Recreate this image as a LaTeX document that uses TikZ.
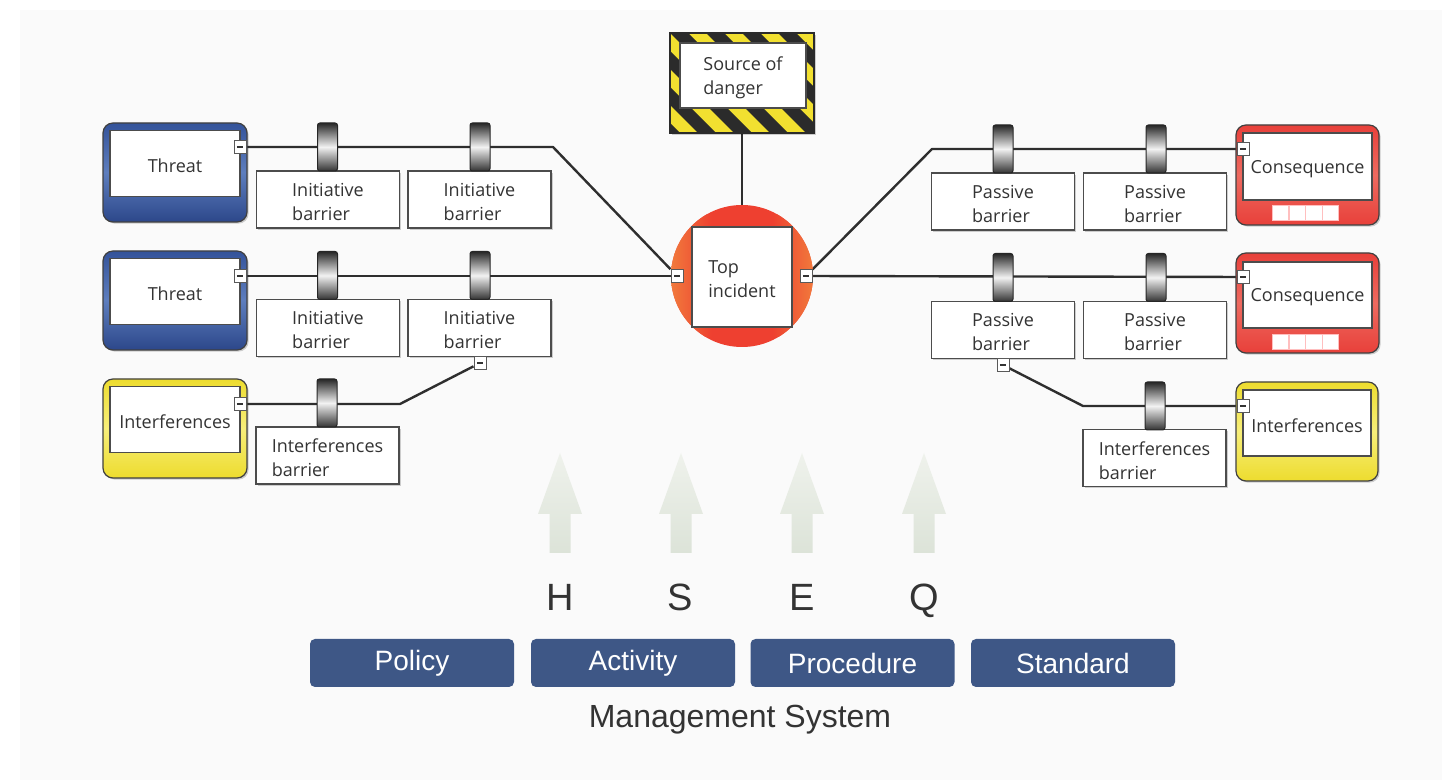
\documentclass[tikz,border=0pt]{standalone}
\usepackage{fontspec}
\setmainfont{Open Sans}
\newfontfamily\hsans{Liberation Sans}
\usetikzlibrary{shadows}
\definecolor{txt}{HTML}{333333}
\definecolor{linec}{HTML}{2E2E2E}
\definecolor{bgc}{HTML}{FAFAFA}
\definecolor{blueA}{HTML}{34539A}
\definecolor{blueB}{HTML}{5E7EBE}
\definecolor{blueC}{HTML}{2C478A}
\definecolor{redA}{HTML}{E8403A}
\definecolor{redB}{HTML}{EE6A60}
\definecolor{yelA}{HTML}{EDDC2E}
\definecolor{yelB}{HTML}{F7EE7A}
\definecolor{hazY}{HTML}{F2E030}
\definecolor{hazK}{HTML}{2B2B2B}
\definecolor{navy}{HTML}{3E5786}
\definecolor{arrT}{HTML}{EFF2EC}
\definecolor{arrB}{HTML}{DCE3D8}
\definecolor{orng}{HTML}{F2803E}
\definecolor{redC}{HTML}{EE4030}
\pgfdeclarelayer{bgl}
\pgfdeclarelayer{lines}
\pgfsetlayers{bgl,lines,main}
\begin{document}
\begin{tikzpicture}[x=0.5pt,y=-0.5pt,
  lbl/.style={font=\fontsize{9}{12}\selectfont, text=txt, align=left},
  conn/.style={draw=linec, line width=1.2pt, line join=round},
  bbox/.style={draw=black!70, fill=white, line width=0.6pt, minimum width=71.5pt, minimum height=28.5pt, inner sep=0pt,
     drop shadow={shadow xshift=0.8pt, shadow yshift=-0.8pt, fill=black, opacity=0.18}},
  roller/.style={draw=black!85, line width=0.5pt, rounded corners=1.2pt, minimum width=10pt, minimum height=24pt, inner sep=0pt,
     top color=black!85, bottom color=black!80, middle color=white!95!black},
  evout/.style={draw=black!75, line width=0.6pt, rounded corners=5pt, minimum width=72pt, minimum height=49.5pt, inner sep=0pt,
     drop shadow={shadow xshift=0.8pt, shadow yshift=-0.8pt, fill=black, opacity=0.18}},
  evin/.style={draw=black!70, fill=white, line width=0.6pt, minimum width=65pt, minimum height=33pt, inner sep=0pt},
  cn/.style={draw=black!65, fill=white, line width=0.5pt, minimum width=6pt, minimum height=6.5pt, inner sep=0pt,
     path picture={\draw[black!80, line width=0.7pt] ([xshift=-1.6pt]path picture bounding box.center) -- ([xshift=1.6pt]path picture bounding box.center);}},
  tx/.style={label={[lbl, yshift=-1.2pt]center:#1}},
  mgmt/.style={fill=navy, rounded corners=2.5pt, minimum width=102pt, minimum height=24pt, inner sep=0pt,
     text=white, font=\hsans\fontsize{14}{16}\selectfont},
  hseq/.style={text=txt, font=\hsans\fontsize{19}{22}\selectfont, anchor=base},
  sq/.style={fill=white, draw=red!25, line width=0.3pt}
]
\useasboundingbox (0,0) rectangle (1442,780);
\begin{pgfonlayer}{bgl}
\fill[white] (0,0) rectangle (1442,780);
\fill[bgc] (20,10) rectangle (1442,780);
\end{pgfonlayer}

% ---------- left event boxes ----------
\node[evout, top color=blueA, bottom color=blueC, middle color=blueB] (t1o) at (175,172.5) {};
\node[evin, tx={Threat}] (t1) at (175,163.5) {};
\node[evout, top color=blueA, bottom color=blueC, middle color=blueB] (t2o) at (175,300.5) {};
\node[evin, tx={Threat}] (t2) at (175,291.5) {};
\node[evout, top color=yelA, bottom color=yelA, middle color=yelB] (ilo) at (175,428.5) {};
\node[evin, tx={Interferences}] (il) at (175,419.5) {};

% ---------- right event boxes ----------
\node[evout, minimum width=71.5pt, minimum height=50pt, top color=redA, bottom color=redA, middle color=redB] (c1o) at (1307.5,175) {};
\node[evin, minimum width=64.5pt, minimum height=33.5pt, tx={Consequence}] (c1) at (1307.5,166.5) {};
\node[evout, minimum width=71.5pt, minimum height=50pt, top color=redA, bottom color=redA, middle color=redB] (c2o) at (1307.5,303) {};
\node[evin, minimum width=64.5pt, minimum height=33pt, tx={Consequence}] (c2) at (1307.5,295) {};
\node[evout, minimum width=71pt, top color=yelA, bottom color=yelA, middle color=yelB] (iro) at (1307,431.5) {};
\node[evin, minimum width=64pt, tx={Interferences}] (ir) at (1307,423) {};
\foreach \yy in {205,334}{
  \foreach \i in {0,1,2,3}{
    \draw[sq] (1272+\i*16.8,\yy) rectangle (1272+\i*16.8+16.2,\yy+15);
  }
}

% ---------- source of danger ----------
\node[draw=hazK, line width=0.8pt, fill=hazY, minimum width=72pt, minimum height=50pt, inner sep=0pt,
      drop shadow={shadow xshift=0.8pt, shadow yshift=-0.8pt, fill=black, opacity=0.18}] (sodo) at (742,83) {};
\begin{scope}
  \clip (670,33) rectangle (814,133);
  \foreach \i in {-4,...,5}{
    \fill[hazK] (670+\i*36,33) -- (670+\i*36+18,33) -- (670+\i*36+118,133) -- (670+\i*36+100,133) -- cycle;
  }
\end{scope}
\draw[hazK, line width=0.8pt] (670,33) rectangle (814,133);
\node[draw=black!70, fill=white, line width=0.6pt, minimum width=63pt, minimum height=32.5pt, inner sep=0pt,
      tx={Source of\\danger}] (sod) at (743,75.5) {};

% ---------- top incident ----------
\node[circle, minimum size=71pt, inner sep=0pt, fill=redC] (topc) at (742,276) {};
\begin{scope}
  \clip (742,276) circle[radius=71];
  \shade[left color=orng, right color=redC, opacity=0.9] (671,215) rectangle (712,337);
  \shade[left color=redC, right color=orng, opacity=0.9] (772,215) rectangle (813,337);
\end{scope}
\node[draw=black!70, fill=white, line width=0.6pt, minimum width=50pt, minimum height=50pt, inner sep=0pt,
      tx={Top\\incident}] (top) at (742,277) {};

% ---------- connector squares ----------
\node[cn] (cT1) at (240,147) {};
\node[cn] (cT2) at (240,276) {};
\node[cn] (cIL) at (240,404) {};
\node[cn] (cTopL) at (677,276) {};
\node[cn] (cTopR) at (806,276) {};
\node[cn] (cC1) at (1243,149) {};
\node[cn] (cC2) at (1243,277) {};
\node[cn] (cIR) at (1243,406) {};

% ---------- barrier boxes ----------
\node[bbox, tx={Initiative\\barrier}] (ib11) at (328,199.5) {};
\node[bbox, tx={Initiative\\barrier}] (ib12) at (479.5,199.5) {};
\node[bbox, tx={Initiative\\barrier}] (ib21) at (328,328) {};
\node[bbox, tx={Initiative\\barrier}] (ib22) at (479.5,328) {};
\node[bbox, tx={Interferences\\barrier}] (ibI) at (327.5,455.5) {};
\node[bbox, tx={Passive\\barrier}] (pb11) at (1003,201.5) {};
\node[bbox, tx={Passive\\barrier}] (pb12) at (1155,201.5) {};
\node[bbox, tx={Passive\\barrier}] (pb21) at (1003,330) {};
\node[bbox, tx={Passive\\barrier}] (pb22) at (1155,330) {};
\node[bbox, tx={Interferences\\barrier}] (pbI) at (1154.5,458) {};
\node[cn] (cB2L) at (480,363) {};
\node[cn] (cB2R) at (1003,365) {};

% ---------- rollers ----------
\node[roller] (r11) at (327.5,147) {};
\node[roller] (r12) at (480,147) {};
\node[roller] (r21) at (327.5,275.5) {};
\node[roller] (r22) at (480,275.5) {};
\node[roller] (rIL) at (327,403) {};
\node[roller] (s11) at (1003,149) {};
\node[roller] (s12) at (1156,149) {};
\node[roller] (s21) at (1003,277.5) {};
\node[roller] (s22) at (1156,277.5) {};
\node[roller] (rIR) at (1155,406) {};

% ---------- bend points ----------
\coordinate (bL1) at (553,147);
\coordinate (bL3) at (400,404);
\coordinate (bR1) at (932,149);
\coordinate (bR3) at (1083,406);

\begin{pgfonlayer}{lines}
\draw[conn] (cT1) -- (bL1) -- (cTopL);
\draw[conn] (cT2) -- (cTopL);
\draw[conn] (cIL) -- (bL3) -- (cB2L);
\draw[conn] (cTopR) -- (bR1) -- (cC1);
\draw[conn] (cTopR) -- (cC2);
\draw[conn] (cB2R) -- (bR3) -- (cIR);
\draw[conn] (sodo) -- (topc);
\end{pgfonlayer}

% ---------- HSEQ arrows ----------
\foreach \cx in {560,681,802,924}{
  \shade[top color=arrT, bottom color=arrB]
    (\cx,453) -- (\cx+22,514) -- (\cx+10.5,514) -- (\cx+10.5,553) -- (\cx-10.5,553) -- (\cx-10.5,514) -- (\cx-22,514) -- cycle;
}
\node[hseq] (H) at (560,611) {H};
\node[hseq] (S) at (680,611) {S};
\node[hseq] (E) at (802,611) {E};
\node[hseq] (Q) at (924,611) {Q};

\node[mgmt] (pol) at (412,663) {Policy};
\node[mgmt] (act) at (633,663) {Activity};
\node[mgmt] (pro) at (852.5,663) {Procedure};
\node[mgmt] (std) at (1073,663) {Standard};
\node[text=txt, font=\hsans\fontsize{16}{19}\selectfont] (ms) at (740,720) {Management System};
\end{tikzpicture}
\end{document}
